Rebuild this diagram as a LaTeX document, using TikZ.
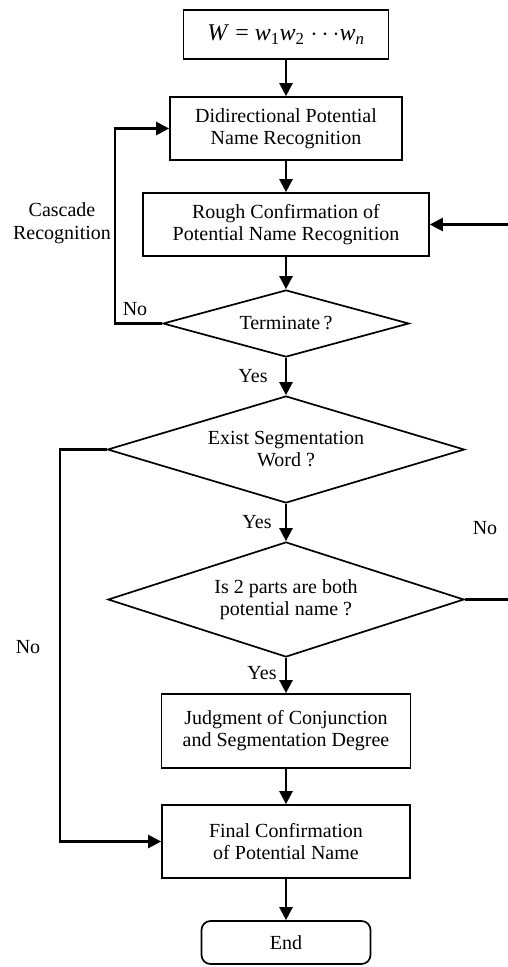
\documentclass[tikz,border=0pt]{standalone}
\usepackage{fontspec}
\setmainfont{Liberation Serif}
\usetikzlibrary{shapes.geometric,arrows.meta}
\tikzset{
  box/.style={draw, line width=1.7pt, rectangle, inner sep=0pt, align=center, font=\fontsize{20}{22}\selectfont},
  dec/.style={draw, line width=1.7pt, diamond, inner sep=0pt, align=center, font=\fontsize{20}{22}\selectfont},
  lbl/.style={align=center, inner sep=0pt, font=\fontsize{20}{23}\selectfont},
  arr/.style={line width=2.4pt, -{Triangle[length=13pt,width=13pt]}},
  ln/.style={line width=2.4pt}
}
\begin{document}
\begin{tikzpicture}[x=1pt,y=-1pt]
\useasboundingbox (0,0) rectangle (507,967);
\node[box, minimum width=205, minimum height=49, font=\fontsize{24}{26}\selectfont] (top) at (286,34.5)
  {\textit{W} = \textit{w}\textsubscript{1}\textit{w}\textsubscript{2} $\cdots$\textit{w}\textsubscript{\textit{n}}};
\node[box, minimum width=232, minimum height=63] (bd) at (286,128.5) {Didirectional Potential\\Name Recognition};
\node[box, minimum width=286, minimum height=63] (rough) at (286,224.5) {Rough Confirmation of\\Potential Name Recognition};
\node[dec, minimum width=246, minimum height=67, shape aspect=3.67] (term) at (286,323.5) {Terminate\,?};
\node[dec, minimum width=357, minimum height=107, shape aspect=3.34] (exist) at (286,449.5) {Exist Segmentation\\Word ?};
\node[dec, minimum width=356, minimum height=115, shape aspect=3.1] (is2) at (286,599.5) {Is 2 parts are both\\potential name ?};
\node[box, minimum width=249, minimum height=74] (judg) at (286,731) {Judgment of Conjunction\\and Segmentation Degree};
\node[box, minimum width=248, minimum height=73] (final) at (286,841.5) {Final Confirmation\\of Potential Name};
\node[box, rounded corners=9pt, minimum width=169, minimum height=43] (end) at (286,942.5) {End};

\node[lbl] (lcas) at (62,223) {Cascade\\Recognition};
\node[lbl] (lno1) at (135,309) {No};
\node[lbl] (lyes1) at (253,376) {Yes};
\node[lbl] (lyes2) at (257,522) {Yes};
\node[lbl] (lno2) at (485,528) {No};
\node[lbl] (lno3) at (28,647) {No};
\node[lbl] (lyes3) at (262,673) {Yes};

\coordinate (c1) at (115,323.5);
\coordinate (c2) at (60,449.5);
\coordinate (c3) at (514,599.5);

\draw[arr] (top) -- (bd);
\draw[arr] (bd) -- (rough);
\draw[arr] (rough) -- (term);
\draw[arr] (term) -- (exist);
\draw[arr] (exist) -- (is2);
\draw[arr] (is2) -- (judg);
\draw[arr] (judg) -- (final);
\draw[arr] (final) -- (end);
\draw[arr] (term.west) -- (c1) |- (bd.west);
\draw[arr] (exist.west) -- (c2) |- (final.west);
\draw[arr] (is2.east) -- (c3) |- (rough.east);
\end{tikzpicture}
\end{document}
